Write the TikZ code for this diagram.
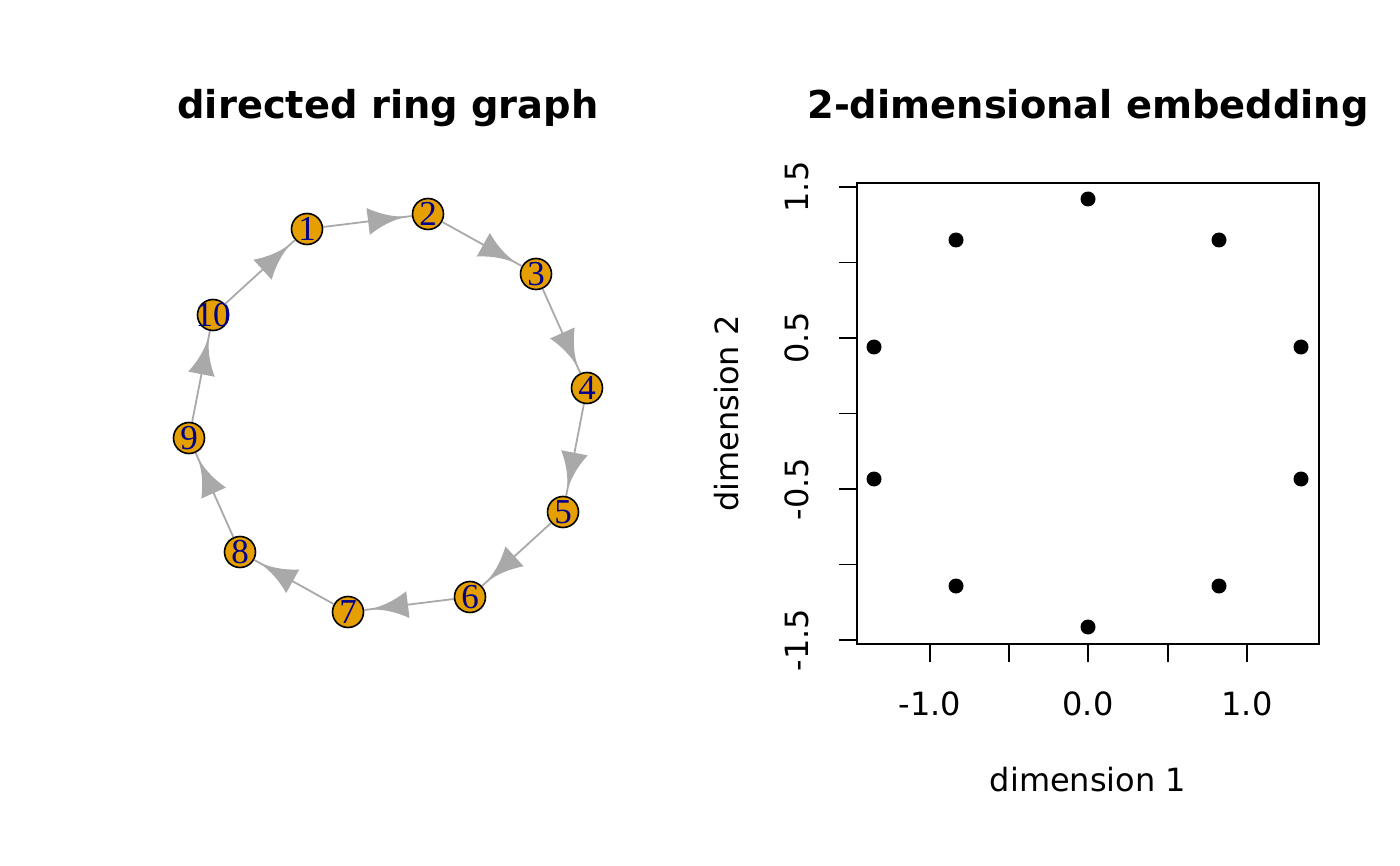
\documentclass[tikz,border=0pt]{standalone}
\usepackage{fontspec}
\setmainfont{DejaVu Sans}
\newfontfamily\nodefont{Liberation Serif}
\definecolor{igorange}{HTML}{E69F00}
\definecolor{edgegray}{HTML}{A9A9A9}
\definecolor{labblue}{HTML}{00008B}
\tikzset{
  vert/.style={circle, draw=black, line width=1.6pt, fill=igorange, minimum size=31pt, inner sep=0pt},
  vlab/.style={text=labblue, font=\nodefont\fontsize{35}{35}\selectfont, inner sep=0pt},
  edge/.style={draw=edgegray, line width=1.8pt},
  arrowhead/.pic={\fill[edgegray] (-44,13.5) .. controls (-29.3,4.5) and (-14.7,0) .. (0,0) .. controls (-14.7,0) and (-29.3,-4.5) .. (-44,-13.5) -- cycle;},
  dot/.style={circle, fill=black, minimum size=15pt, inner sep=0pt},
  axlab/.style={font=\fontsize{32}{32}\selectfont, inner sep=0pt},
  ttl/.style={font=\fontsize{38.4}{38.4}\selectfont\bfseries, inner sep=0pt, anchor=base},
  tick/.style={line width=1.6pt},
}
\begin{document}
\begin{tikzpicture}[x=1pt,y=-1pt]
\useasboundingbox (0,0) rectangle (1400,866);
% titles
\node[ttl] (t1) at (388,119) {directed ring graph};
\node[ttl] (t2) at (1088,119) {2-dimensional embedding};
% ring graph nodes
\foreach \n/\x/\y in {1/307/229, 2/428/214, 3/536/274, 4/587/388, 5/563/512, 6/470/597, 7/348/612, 8/240/552, 9/189/438, 10/213/315}{
  \node[vert, label={[vlab]center:\n}] (v\n) at (\x,\y) {};
}
% edges
\foreach \a/\b in {1/2, 2/3, 3/4, 4/5, 5/6, 6/7, 7/8, 8/9, 9/10, 10/1}{
  \draw[edge] (v\a) -- (v\b) pic[pos=1, sloped, allow upside down] {arrowhead};
}
% embedding plot
\draw[tick] (857,183) rectangle (1319,644);
\foreach \y/\l in {187/1.5, 262.5/, 338/0.5, 413.5/, 489/-0.5, 564.5/, 640/-1.5}{
  \draw[tick] (839,\y) -- (857,\y);
  \node[axlab, rotate=90] (yl\y) at (797,\y) {\l};
}
\foreach \x/\l in {930/-1.0, 1009/, 1088/0.0, 1168/, 1247/1.0}{
  \draw[tick] (\x,644) -- (\x,662);
  \node[axlab] (xl\x) at (\x,704) {\l};
}
\node[axlab, anchor=base] (xlab) at (1088,791) {dimension 1};
\node[axlab, rotate=90] (ylab) at (727,413.5) {dimension 2};
% points
\foreach \i/\x/\y in {1/1088/199, 2/1219/240, 3/1301/347, 4/1301/479, 5/1219/586, 6/1088/627, 7/956/586, 8/874/479, 9/874/347, 10/956/240}{
  \node[dot] (p\i) at (\x,\y) {};
}
\end{tikzpicture}
\end{document}
